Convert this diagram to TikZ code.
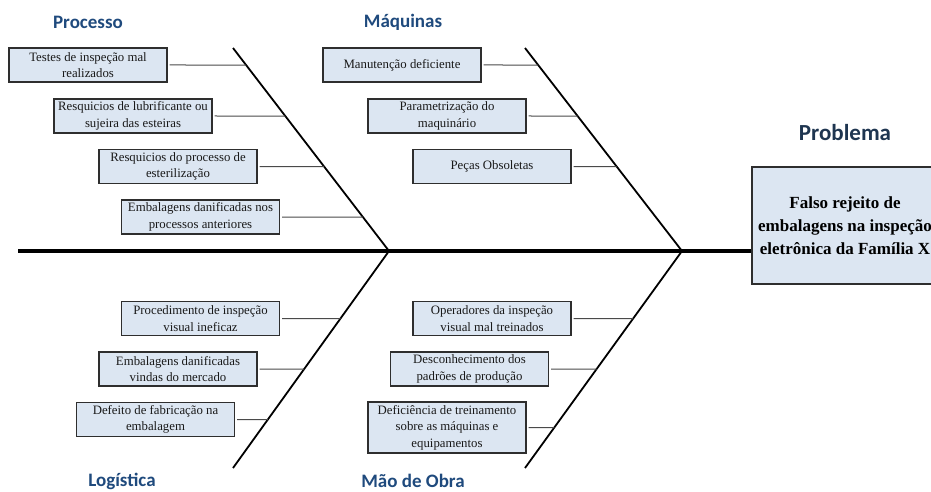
\documentclass[tikz,border=0pt]{standalone}
\usepackage{fontspec}
\setmainfont{Liberation Serif}
\newfontfamily\headfont{Carlito}
\usetikzlibrary{calc}
\definecolor{boxfill}{HTML}{DCE6F2}
\definecolor{boxline}{HTML}{2E2E2E}
\definecolor{headblue}{HTML}{1F4A7D}
\definecolor{probhead}{HTML}{1E3550}
\definecolor{twig}{HTML}{4A4A4A}
\tikzset{
  cause/.style={draw=boxline, line width=1.3pt, fill=boxfill, align=center,
    minimum width=158, minimum height=34, inner sep=1pt, text=black!90,
    font=\fontsize{12.8}{16.5}\selectfont},
  heading/.style={text=headblue, font=\headfont\bfseries\fontsize{19}{22}\selectfont},
  bone/.style={line width=1.8pt, black},
  spine/.style={line width=3.2pt, black},
  twigline/.style={line width=1pt, twig},
}
\begin{document}
\begin{tikzpicture}[x=1pt,y=-1pt]
\useasboundingbox (0,0) rectangle (931,492);
\clip (0,0) rectangle (931,492);

% problem box
\node[draw=boxline, line width=1.3pt, fill=boxfill, minimum width=186, minimum height=117,
  align=center, font=\bfseries\fontsize{17}{23}\selectfont, inner sep=0pt]
  (prob) at (845,225.5) {Falso rejeito de\\embalagens na inspeção\\eletrônica da Família X};
\node[text=probhead, font=\headfont\bfseries\fontsize{23}{26}\selectfont] (probt) at (845,133) {Problema};

% spine and bones
\coordinate (tail) at (18,251);
\coordinate (J1) at (389,251);
\coordinate (J2) at (682,251);
\coordinate (tlA) at (233,48);
\coordinate (trA) at (525,48);
\coordinate (blA) at (233,468);
\coordinate (brA) at (525,468);
\draw[spine] (tail) -- (J2 -| prob.west);
\draw[bone] (tlA) -- (J1) -- (blA);
\draw[bone] (trA) -- (J2) -- (brA);

% category headings
\node[heading] (hproc) at (88,22) {Processo};
\node[heading] (hmaq) at (403,22) {Máquinas};
\node[heading] (hlog) at (122,481) {Logística};
\node[heading] (hmao) at (413,481) {Mão de Obra};

% Processo
\node[cause] (p1) at (88,65) {Testes de inspeção mal\\realizados};
\node[cause] (p2) at (133,116) {Resquicios de lubrificante ou\\sujeira das esteiras};
\node[cause] (p3) at (178,166.5) {Resquicios do processo de\\esterilização};
\node[cause] (p4) at (200.5,217) {Embalagens danificadas nos\\processos anteriores};

% Máquinas
\node[cause] (m1) at (402,65) {Manutenção deficiente};
\node[cause] (m2) at (447,116) {Parametrização do\\maquinário};
\node[cause] (m3) at (492,166.5) {Peças Obsoletas};

% Logística
\node[cause] (l1) at (200.5,318.5) {Procedimento de inspeção\\visual ineficaz};
\node[cause] (l2) at (178,369) {Embalagens danificadas\\vindas do mercado};
\node[cause] (l3) at (155.5,419.5) {Defeito de fabricação na\\embalagem};

% Mão de Obra
\node[cause] (o1) at (492,318.5) {Operadores da inspeção\\visual mal treinados};
\node[cause] (o2) at (469.5,369) {Desconhecimento dos\\padrões de produção};
\node[cause, minimum height=51] (o3) at (447,427.5) {Deficiência de treinamento\\sobre as máquinas e\\equipamentos};

% twigs from each cause to its bone
\foreach \c/\a/\b in {p1/tlA/J1, p2/tlA/J1, p3/tlA/J1, p4/tlA/J1,
                      m1/trA/J2, m2/trA/J2, m3/trA/J2,
                      l1/blA/J1, l2/blA/J1, l3/blA/J1,
                      o1/brA/J2, o2/brA/J2, o3/brA/J2} {
  \coordinate (\c h) at ($(\c.east)+(10,0)$);
  \draw[twigline] ($(\c.east)+(2,0)$) -- (intersection of \c.east--\c h and \a--\b);
}
\end{tikzpicture}
\end{document}
